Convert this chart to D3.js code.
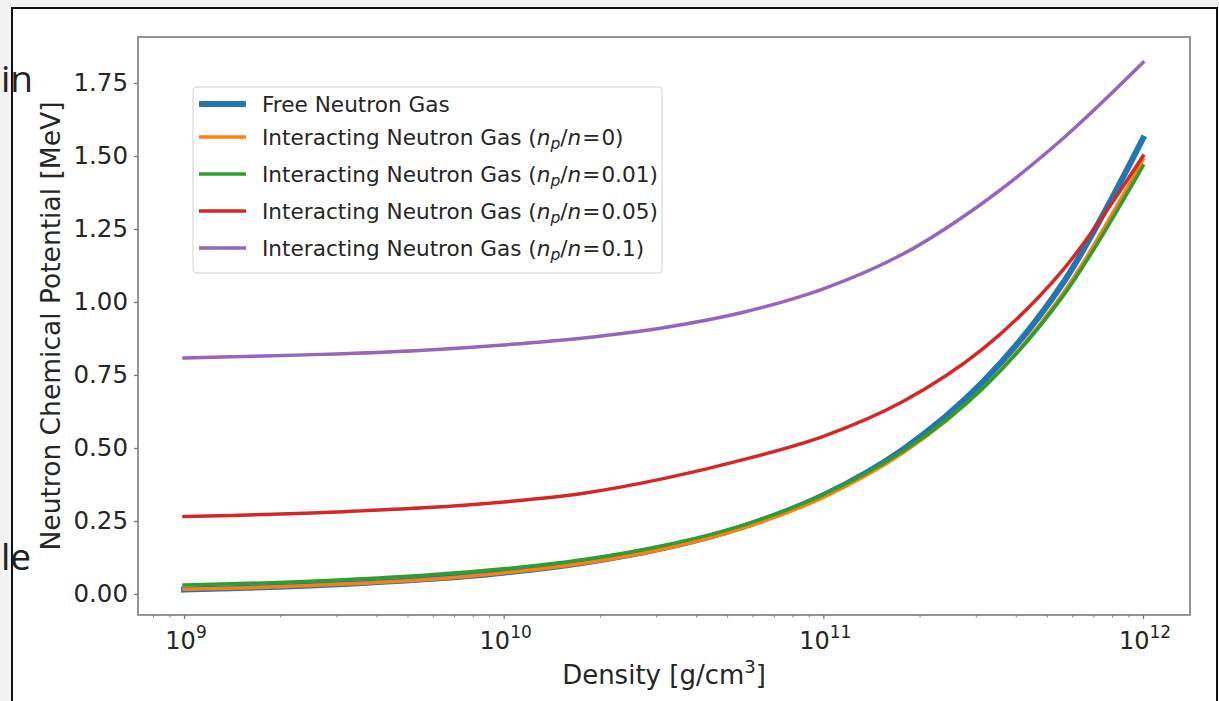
<!DOCTYPE html>
<html>
<head>
<meta charset="utf-8">
<script src="https://cdn.jsdelivr.net/npm/d3@7"></script>
<style>
    body { margin: 0; background: #f2f2f2; }
    svg { display: block; }
</style>
</head>
<body>
<div id="chart"></div>
<script>

// density samples [g/cm^3], quarter decades from 1e9 to 1e12
const density = [1e9, 1.78e9, 3.16e9, 5.62e9, 1e10, 1.78e10, 3.16e10, 5.62e10, 1e11, 1.78e11, 3.16e11, 5.62e11, 1e12];

// chemical potential [MeV]
const freeGas      = [0.015, 0.023, 0.034, 0.050, 0.073, 0.107, 0.157, 0.231, 0.338, 0.496, 0.727, 1.065, 1.560];
const interact0    = [0.016, 0.023, 0.034, 0.049, 0.072, 0.105, 0.154, 0.226, 0.331, 0.484, 0.705, 1.030, 1.488];
const interact001  = [0.031, 0.038, 0.049, 0.064, 0.086, 0.118, 0.166, 0.236, 0.340, 0.490, 0.705, 1.020, 1.466];
const interact005  = [0.265, 0.272, 0.282, 0.295, 0.315, 0.345, 0.395, 0.460, 0.540, 0.660, 0.840, 1.110, 1.500];
const interact01   = [0.808, 0.815, 0.823, 0.835, 0.853, 0.877, 0.912, 0.965, 1.045, 1.165, 1.340, 1.560, 1.820];

const ratios = [null, "0", "0.01", "0.05", "0.1"];
const yTicks = [0, 0.25, 0.5, 0.75, 1.0, 1.25, 1.5, 1.75];
const xTickExp = [9, 10, 11, 12];

const colors = ["#1f77b4", "#ff7f0e", "#2ca02c", "#d62728", "#9467bd"];
const widths = [6, 3.5, 3.5, 3.5, 3.5];


class PotentialVis {

    constructor(parentElement) {
        this.parentElement = parentElement;
        this.series = [freeGas, interact0, interact001, interact005, interact01];
        this.initVis();
    }

    initVis() {
        let vis = this;

        vis.width = 1219;
        vis.height = 701;
        vis.box = {left: 138, top: 37, right: 1190, bottom: 615};

        vis.svg = d3.select("#" + vis.parentElement).append("svg")
            .attr("width", vis.width)
            .attr("height", vis.height)
            .style("font-family", "'DejaVu Sans', sans-serif");

        // the notebook page behind the figure
        vis.svg.append("rect")
            .attr("x", 12).attr("y", 8)
            .attr("width", 1205).attr("height", 720)
            .attr("fill", "white");

        vis.svg.append("text")
            .attr("x", 1).attr("y", 92)
            .style("font-family", "'Open Sans', sans-serif")
            .style("font-size", "37px")
            .attr("fill", "#222")
            .text("in");

        vis.svg.append("text")
            .attr("x", 1).attr("y", 570)
            .style("font-family", "'Open Sans', sans-serif")
            .style("font-size", "37px")
            .attr("fill", "#222")
            .text("le");

        vis.svg.append("rect")
            .attr("x", 12).attr("y", 8)
            .attr("width", 1205).attr("height", 720)
            .attr("fill", "none")
            .attr("stroke", "#111")
            .attr("stroke-width", 2);

        // scales (log x with matplotlib-like margins)
        vis.x = d3.scaleLog()
            .domain([Math.pow(10, 8.856), Math.pow(10, 12.147)])
            .range([vis.box.left, vis.box.right]);

        vis.y = d3.scaleLinear()
            .domain([-0.072, 1.9075])
            .range([vis.box.bottom, vis.box.top]);

        // y axis
        vis.yAxis = vis.svg.append("g")
            .attr("transform", `translate(${vis.box.left}, 0)`)
            .call(d3.axisLeft(vis.y).tickValues(yTicks).tickFormat(d3.format(".2f")).tickSize(4).tickPadding(6));

        vis.yAxis.select(".domain").remove();
        vis.yAxis.selectAll("line").attr("stroke", "#777").attr("stroke-width", 1.3);
        vis.yAxis.selectAll("text")
            .attr("fill", "#262626")
            .style("font-family", "'DejaVu Sans', sans-serif")
            .style("font-size", "24.5px");

        // x axis, minor ticks first
        let minor = [];
        for (let e = 8; e <= 12; e++) {
            for (let m = 2; m <= 9; m++) {
                let v = m * Math.pow(10, e);
                if (v >= vis.x.domain()[0] && v <= vis.x.domain()[1]) minor.push(v);
            }
        }

        vis.xMinor = vis.svg.append("g")
            .attr("transform", `translate(0, ${vis.box.bottom})`)
            .call(d3.axisBottom(vis.x).tickValues(minor).tickFormat("").tickSize(2.5));
        vis.xMinor.select(".domain").remove();
        vis.xMinor.selectAll("line").attr("stroke", "#888").attr("stroke-width", 1);

        vis.xAxis = vis.svg.append("g")
            .attr("transform", `translate(0, ${vis.box.bottom})`)
            .call(d3.axisBottom(vis.x).tickValues(xTickExp.map(e => Math.pow(10, e))).tickFormat("").tickSize(4));
        vis.xAxis.select(".domain").remove();
        vis.xAxis.selectAll("line").attr("stroke", "#777").attr("stroke-width", 1.3);

        let xLab = vis.svg.append("g").selectAll("text")
            .data(xTickExp)
            .enter().append("text")
                .attr("x", d => vis.x(Math.pow(10, d)) + 2)
                .attr("y", 649)
                .attr("text-anchor", "middle")
                .attr("fill", "#262626")
                .style("font-size", "24px");
        xLab.append("tspan").text("10");
        xLab.append("tspan")
            .attr("dy", -11)
            .style("font-size", "17px")
            .text(d => d);

        // axis frame
        vis.svg.append("rect")
            .attr("x", vis.box.left).attr("y", vis.box.top)
            .attr("width", vis.box.right - vis.box.left)
            .attr("height", vis.box.bottom - vis.box.top)
            .attr("fill", "none")
            .attr("stroke", "#7a7a7a")
            .attr("stroke-width", 1.6);

        // axis labels
        let xTitle = vis.svg.append("text")
            .attr("x", (vis.box.left + vis.box.right) / 2)
            .attr("y", 684)
            .attr("text-anchor", "middle")
            .attr("fill", "#262626")
            .style("font-size", "26px");
        xTitle.append("tspan").text("Density [g/cm");
        xTitle.append("tspan").attr("dy", -11).style("font-size", "18px").text("3");
        xTitle.append("tspan").attr("dy", 11).text("]");

        vis.svg.append("text")
            .attr("transform", `translate(60, ${(vis.box.top + vis.box.bottom) / 2}) rotate(-90)`)
            .attr("text-anchor", "middle")
            .attr("fill", "#262626")
            .style("font-size", "26.5px")
            .text("Neutron Chemical Potential [MeV]");

        vis.wrangleData();
    }

    wrangleData() {
        let vis = this;

        vis.displayData = vis.series.map((vals, i) => ({
            ratio: ratios[i],
            values: vals.map((v, j) => ({rho: density[j], mu: v}))
        }));

        vis.updateVis();
    }

    updateVis() {
        let vis = this;

        let line = d3.line()
            .x(d => vis.x(d.rho))
            .y(d => vis.y(d.mu))
            .curve(d3.curveCatmullRom.alpha(0.5));

        vis.svg.append("g").selectAll(".curve")
            .data(vis.displayData)
            .enter().append("path")
                .attr("class", "curve")
                .attr("d", d => line(d.values))
                .attr("fill", "none")
                .attr("stroke", (d, i) => colors[i])
                .attr("stroke-width", (d, i) => widths[i])
                .attr("stroke-linecap", "square");

        // legend
        vis.legend = vis.svg.append("g").attr("class", "legend");

        vis.legend.append("rect")
            .attr("x", 193).attr("y", 87)
            .attr("width", 469).attr("height", 186)
            .attr("rx", 4)
            .attr("fill", "white").attr("fill-opacity", 0.8)
            .attr("stroke", "#d0d0d0").attr("stroke-width", 1);

        let rowY = i => i === 0 ? 104 : 100 + 37 * i;

        let rows = vis.legend.selectAll(".row")
            .data(vis.displayData)
            .enter().append("g")
                .attr("class", "row")
                .attr("transform", (d, i) => `translate(0, ${rowY(i)})`);

        rows.append("line")
            .attr("x1", 199).attr("x2", 246)
            .attr("y1", 0).attr("y2", 0)
            .attr("stroke", (d, i) => colors[i])
            .attr("stroke-width", (d, i) => widths[i]);

        rows.each(function(d) {
            let t = d3.select(this).append("text")
                .attr("x", 262).attr("y", 8)
                .attr("fill", "#262626")
                .style("font-size", "21.6px");
            if (d.ratio === null) {
                t.text("Free Neutron Gas");
                return;
            }
            t.append("tspan").text("Interacting Neutron Gas (");
            t.append("tspan").style("font-style", "italic").text("n");
            t.append("tspan").style("font-style", "italic").style("font-size", "15.5px").attr("dy", 4).text("p");
            t.append("tspan").attr("dy", -4).text("/");
            t.append("tspan").style("font-style", "italic").text("n");
            t.append("tspan").attr("dx", 1).text("=");
            t.append("tspan").attr("dx", 1).text(d.ratio + ")");
        });
    }
}

new PotentialVis("chart");

</script>
</body>
</html>
